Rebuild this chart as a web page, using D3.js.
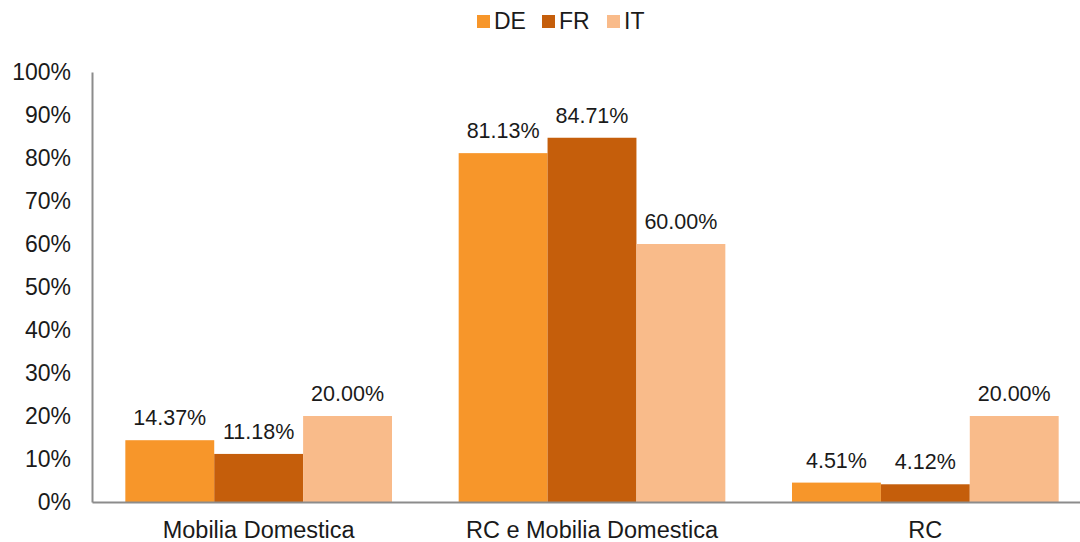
<!DOCTYPE html>
<html>
<head>
<meta charset="utf-8">
<script src="https://cdn.jsdelivr.net/npm/d3@7/dist/d3.min.js"></script>
<style>
  html, body { margin: 0; padding: 0; background: #fff; }
  svg { display: block; font-family: "Liberation Sans", Arial, sans-serif; }
</style>
</head>
<body>
<svg id="chart" width="1080" height="542"></svg>
<script>
const categories = ["Mobilia Domestica", "RC e Mobilia Domestica", "RC"];
const seriesNames = ["DE", "FR", "IT"];
const DE = [14.37, 81.13, 4.51];
const FR = [11.18, 84.71, 4.12];
const IT = [20.00, 60.00, 20.00];
const yTicks = [0, 10, 20, 30, 40, 50, 60, 70, 80, 90, 100];
const colors = ["#F7962A", "#C55E0B", "#F9BB8A"];

const seriesValues = [DE, FR, IT];
const svg = d3.select("#chart");

const x0 = d3.scaleBand().domain(categories).range([92, 1092]).paddingInner(0.2).paddingOuter(0.1);
const x1 = d3.scaleBand().domain(seriesNames).range([0, x0.bandwidth()]).padding(0);
const y = d3.scaleLinear().domain([0, 100]).range([502, 72]);
const color = d3.scaleOrdinal().domain(seriesNames).range(colors);

// Y axis
const yAxis = d3.axisLeft(y).tickValues(yTicks).tickFormat(d => d + "%").tickSize(0).tickPadding(21);
const gy = svg.append("g").attr("transform", "translate(92,0)").call(yAxis);
gy.select(".domain").attr("stroke", "#8c8c8c").attr("stroke-width", 2);
gy.selectAll("text").attr("font-size", 23).attr("fill", "#1a1a1a")
  .attr("font-family", "Liberation Sans, Arial, sans-serif");

// Bars
const groups = svg.append("g").selectAll("g").data(categories).join("g")
  .attr("transform", d => `translate(${x0(d)},0)`);

groups.each(function(cat, ci) {
  const g = d3.select(this);
  const data = seriesNames.map((s, si) => ({ s, v: seriesValues[si][ci] }));
  g.selectAll("rect").data(data).join("rect")
    .attr("x", d => x1(d.s))
    .attr("y", d => y(d.v))
    .attr("width", x1.bandwidth())
    .attr("height", d => y(0) - y(d.v))
    .attr("fill", d => color(d.s));
  g.selectAll("text").data(data).join("text")
    .attr("x", d => x1(d.s) + x1.bandwidth() / 2)
    .attr("y", d => y(d.v) - 15)
    .attr("text-anchor", "middle")
    .attr("font-size", 21.5)
    .attr("fill", "#1a1a1a")
    .text(d => d.v.toFixed(2) + "%");
});

// X axis
const xAxis = d3.axisBottom(x0).tickSize(0).tickPadding(0);
const gx = svg.append("g").attr("transform", "translate(0,502)").call(xAxis);
gx.select(".domain").attr("stroke", "#8c8c8c").attr("stroke-width", 2);
gx.selectAll("text").attr("font-size", 23.5).attr("fill", "#1a1a1a").attr("dy", 0).attr("y", 36)
  .attr("font-family", "Liberation Sans, Arial, sans-serif");

// Legend
const legendX = [477, 542, 607];
const leg = svg.append("g").selectAll("g").data(seriesNames).join("g")
  .attr("transform", (d, i) => `translate(${legendX[i]},0)`);
leg.append("rect").attr("x", 0).attr("y", 15).attr("width", 13).attr("height", 13).attr("fill", d => color(d));
leg.append("text").attr("x", 17).attr("y", 29).attr("font-size", 23).attr("fill", "#1a1a1a").text(d => d);
</script>
</body>
</html>
